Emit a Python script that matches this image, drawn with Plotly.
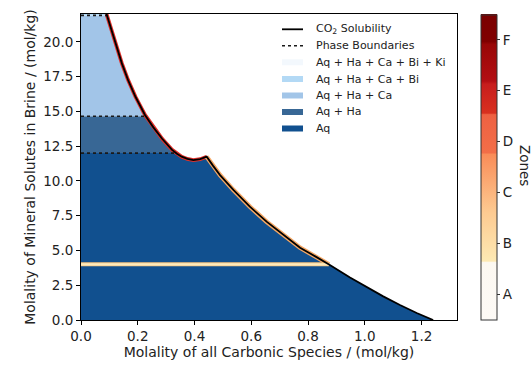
import numpy as np
import plotly.graph_objects as go

# ---------------- data ----------------
sol_x = [0.090, 0.107, 0.125, 0.144, 0.166, 0.192, 0.2255, 0.255, 0.286, 0.320,
         0.338, 0.355, 0.375, 0.396, 0.420, 0.443, 0.465, 0.490, 0.537, 0.595,
         0.654, 0.713, 0.772, 0.830, 0.877, 0.948, 1.007, 1.065, 1.124, 1.183, 1.241]
sol_y = [22.0, 20.85, 19.65, 18.45, 17.25, 16.05, 14.74, 13.85, 13.03, 12.25,
         11.95, 11.74, 11.58, 11.50, 11.56, 11.74, 11.10, 10.42, 9.35, 8.15,
         7.07, 6.11, 5.20, 4.52, 3.96, 3.05, 2.34, 1.70, 1.08, 0.50, 0.0]

phase_bounds = [12.0, 14.65, 21.9]          # Aq | Aq+Ha | Aq+Ha+Ca | Aq+Ha+Ca+Bi
phase_names = ["Aq", "Aq + Ha", "Aq + Ha + Ca", "Aq + Ha + Ca + Bi", "Aq + Ha + Ca + Bi + Ki"]
phase_colors = ["#11508f", "#386795", "#a2c5e8", "#b3d9f5", "#f3f8fd"]
zone_b_y = 4.0                               # zone boundary (horizontal)
peak_x = 0.443                               # end of red zone line along curve
zone_labels = ["A", "B", "C", "D", "E", "F"]
x_ticks = [0.0, 0.2, 0.4, 0.6, 0.8, 1.0, 1.2]
y_ticks = [0.0, 2.5, 5.0, 7.5, 10.0, 12.5, 15.0, 17.5, 20.0]
x_max, y_max = 1.325, 22.0

FONT = "DejaVu Sans"
TXT = "#222222"

# ---------------- geometry helpers ----------------
L, R, T, B = 81, 75, 14, 47
W, H = 532, 367
PW, PH = W - L - R, H - T - B


def px2x(px):
    return (px - L) / PW


def px2y(py):
    return (H - B - py) / PH


def clip(poly, yv, keep_above):
    out = []
    n = len(poly)
    for i in range(n):
        p, q = poly[i], poly[(i + 1) % n]
        pin = p[1] >= yv if keep_above else p[1] <= yv
        qin = q[1] >= yv if keep_above else q[1] <= yv
        if pin:
            out.append(p)
        if pin != qin:
            t = (yv - p[1]) / (q[1] - p[1])
            out.append((p[0] + t * (q[0] - p[0]), yv))
    return out


base = [(0.0, y_max)] + list(zip(sol_x, sol_y)) + [(0.0, 0.0)]


def band(ylo, yhi):
    pts = clip(clip(base, ylo, True), yhi, False)
    return [p[0] for p in pts] + [pts[0][0]], [p[1] for p in pts] + [pts[0][1]]


def crossings(yv):
    xs = []
    for i in range(len(sol_y) - 1):
        y0, y1 = sol_y[i], sol_y[i + 1]
        if (y0 - yv) * (y1 - yv) <= 0 and y0 != y1:
            t = (yv - y0) / (y1 - y0)
            xs.append(sol_x[i] + t * (sol_x[i + 1] - sol_x[i]))
    return xs if xs else [sol_x[0]]


fig = go.Figure()

# filled phase regions
edges = [0.0] + phase_bounds + [y_max]
for i in range(4):
    bx, by = band(edges[i], edges[i + 1])
    fig.add_trace(go.Scatter(x=bx, y=by, mode="lines", fill="toself",
                             fillcolor=phase_colors[i], line=dict(width=0),
                             hoverinfo="skip", showlegend=False))

# zone contour along the curve
sx = np.array(sol_x)
sy = np.array(sol_y)
red_mask = sx <= peak_x + 1e-9
fig.add_trace(go.Scatter(x=sx[red_mask], y=sy[red_mask], mode="lines",
                         line=dict(color="#e0302a", width=3.8), hoverinfo="skip", showlegend=False))
xb = crossings(zone_b_y)[-1]
om = (sx >= peak_x - 1e-9) & (sy >= zone_b_y)
ox = list(sx[om]) + [xb]
oy = list(sy[om]) + [zone_b_y]
fig.add_trace(go.Scatter(x=ox, y=oy, mode="lines",
                         line=dict(color="#f5a866", width=4.5), hoverinfo="skip", showlegend=False))

# zone B horizontal boundary
fig.add_trace(go.Scatter(x=[0.0, xb], y=[zone_b_y, zone_b_y], mode="lines",
                         line=dict(color="#f4c27f", width=4), hoverinfo="skip", showlegend=False))
fig.add_trace(go.Scatter(x=[0.0, xb], y=[zone_b_y, zone_b_y], mode="lines",
                         line=dict(color="#fdebbd", width=2.2), hoverinfo="skip", showlegend=False))

# phase boundaries (dotted)
for yb in phase_bounds:
    xc = crossings(yb)[0]
    fig.add_trace(go.Scatter(x=[0.0, xc], y=[yb, yb], mode="lines",
                             line=dict(color="#1a1a1a", width=1.6, dash="dot"),
                             hoverinfo="skip", showlegend=False))

# CO2 solubility curve
fig.add_trace(go.Scatter(x=sol_x, y=sol_y, mode="lines",
                         line=dict(color="black", width=1.8), hoverinfo="skip", showlegend=False))

# colorbar (Zones)
cscale = [[0.0, "#fdfaf6"], [0.185, "#fcf8f1"], [0.19, "#fde9b3"], [0.35, "#fdca91"],
          [0.54, "#f98c58"], [0.545, "#f26e48"], [0.67, "#ee6142"], [0.675, "#d8301f"],
          [0.77, "#c71d1d"], [0.78, "#b30e13"], [0.9, "#980707"], [0.91, "#800000"],
          [1.0, "#7a0000"]]
fig.add_trace(go.Scatter(
    x=[0.5], y=[5.0], mode="markers", hoverinfo="skip", showlegend=False,
    marker=dict(size=1, opacity=0, color=[0.0], cmin=0, cmax=6, colorscale=cscale,
                showscale=True,
                colorbar=dict(x=px2x(481), xanchor="left", y=0.5, yanchor="middle",
                              len=305 / PH, lenmode="fraction", thickness=16,
                              thicknessmode="pixels", outlinewidth=1, outlinecolor="#333",
                              xpad=0, ypad=0,
                              tickmode="array", tickvals=[i + 0.5 for i in range(6)],
                              ticktext=zone_labels, ticks="outside", ticklen=3,
                              tickcolor="#333",
                              tickfont=dict(family=FONT, size=13.5, color=TXT)))))

# ---------------- manual legend ----------------
shapes = []
annos = []
row_y = [29.3, 45.8, 62.3, 79.0, 95.5, 112.0, 128.5]
sx0, sx1, tx = 282, 303, 314
leg_text = ["CO<sub>2</sub> Solubility", "Phase Boundaries"] + phase_names[::-1]
shapes.append(dict(type="line", xref="paper", yref="paper",
                   x0=px2x(sx0), x1=px2x(sx1), y0=px2y(row_y[0]), y1=px2y(row_y[0]),
                   line=dict(color="black", width=1.8)))
shapes.append(dict(type="line", xref="paper", yref="paper",
                   x0=px2x(sx0), x1=px2x(sx1), y0=px2y(row_y[1]), y1=px2y(row_y[1]),
                   line=dict(color="#1a1a1a", width=1.6, dash="dot")))
for k, col in enumerate(phase_colors[::-1]):
    ry = row_y[k + 2]
    shapes.append(dict(type="rect", xref="paper", yref="paper",
                       x0=px2x(sx0), x1=px2x(sx1), y0=px2y(ry + 3), y1=px2y(ry - 3),
                       fillcolor=col, line=dict(width=0)))
for k, t in enumerate(leg_text):
    annos.append(dict(xref="paper", yref="paper", x=px2x(tx), y=px2y(row_y[k]),
                      xanchor="left", yanchor="middle", text=t, showarrow=False,
                      font=dict(family=FONT, size=11, color=TXT)))

annos.append(dict(xref="paper", yref="paper", x=px2x(525), y=px2y(165),
                  xanchor="center", yanchor="middle", text="Zones", textangle=90,
                  showarrow=False, font=dict(family=FONT, size=13.5, color=TXT)))

axis_common = dict(showline=True, mirror=True, linecolor="black", linewidth=1,
                   ticks="outside", ticklen=4, tickcolor="black", showgrid=False,
                   zeroline=False, tickfont=dict(family=FONT, size=13.5, color=TXT))

fig.update_layout(
    width=W, height=H, margin=dict(l=L, r=R, t=T, b=B, autoexpand=False),
    paper_bgcolor="white", plot_bgcolor="white",
    font=dict(family=FONT, color=TXT),
    showlegend=False,
    shapes=shapes, annotations=annos,
    xaxis=dict(range=[0, x_max], tickvals=x_ticks, tickformat=".1f",
               title=dict(text="Molality of all Carbonic Species / (mol/kg)",
                          font=dict(family=FONT, size=14, color=TXT), standoff=3),
               **axis_common),
    yaxis=dict(range=[0, y_max], tickvals=y_ticks, tickformat=".1f",
               title=dict(text="Molality of Mineral Solutes in Brine / (mol/kg)",
                          font=dict(family=FONT, size=14, color=TXT), standoff=4),
               **axis_common),
)

fig.write_html("out.html")
